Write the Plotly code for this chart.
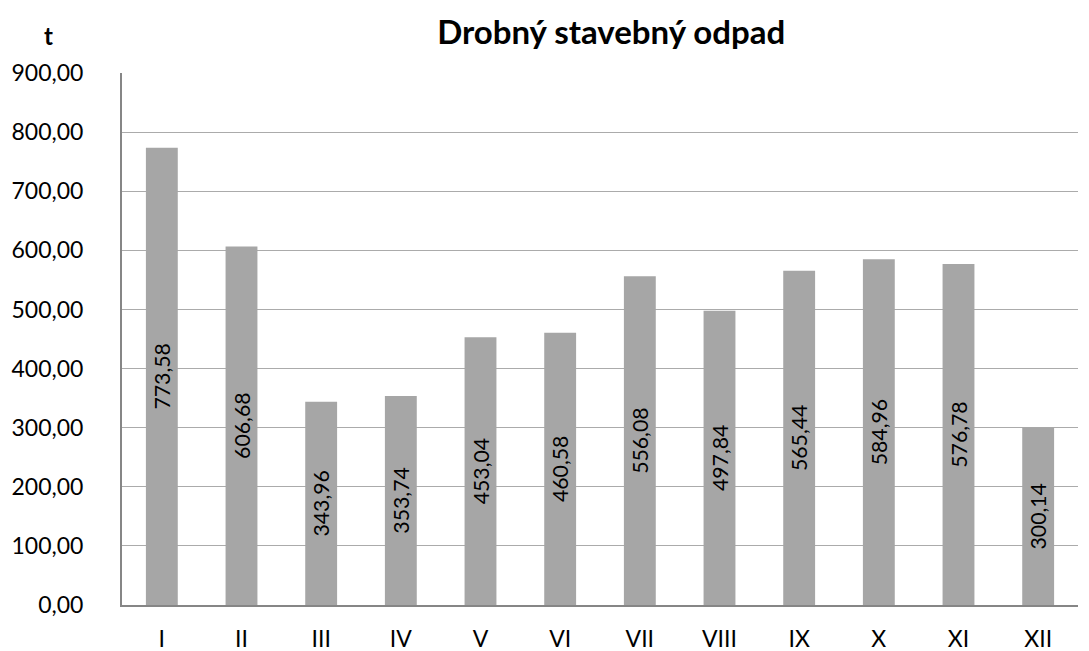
import plotly.graph_objects as go

months = ["I", "II", "III", "IV", "V", "VI", "VII", "VIII", "IX", "X", "XI", "XII"]
values = [773.58, 606.68, 343.96, 353.74, 453.04, 460.58, 556.08, 497.84, 565.44, 584.96, 576.78, 300.14]
labels = [f"{v:.2f}".replace(".", ",") for v in values]

font = "Lato, Open Sans, sans-serif"

fig = go.Figure(go.Bar(
    x=months, y=values, text=labels,
    textposition="inside", insidetextanchor="middle", textangle=-90,
    textfont=dict(family=font, size=23, color="black"),
    marker=dict(color="#a6a6a6", line=dict(width=0)),
    width=0.4,
))

fig.update_layout(
    width=1081, height=643,
    margin=dict(l=114, r=11, t=65, b=46),
    paper_bgcolor="white", plot_bgcolor="white",
    separators=", ",
    showlegend=False,
    uniformtext=dict(mode=False),
    title=dict(text="<b>Drobný stavebný odpad</b>", x=0.558, xanchor="center", xref="container",
               y=0.962, yanchor="middle", yref="container",
               font=dict(family=font, size=33, color="black")),
    font=dict(family=font, size=23, color="black"),
    xaxis=dict(showgrid=False, showline=True, linecolor="#868686", linewidth=2,
               ticks="", ticklabelstandoff=12, automargin=False,
               tickfont=dict(family=font, size=23)),
    yaxis=dict(range=[0, 900], dtick=100, tickformat=".2f", showgrid=True,
               gridcolor="#ababab", gridwidth=1, showline=True, linecolor="#868686",
               linewidth=2, ticks="", zeroline=False, ticklabelstandoff=32, automargin=False,
               tickfont=dict(family=font, size=23)),
    annotations=[dict(text="<b>t</b>", x=-0.0765, y=1.0714, xref="paper", yref="paper",
                      xanchor="center", yanchor="middle", showarrow=False,
                      font=dict(family=font, size=24, color="black"))],
)
fig.write_html("out.html")
